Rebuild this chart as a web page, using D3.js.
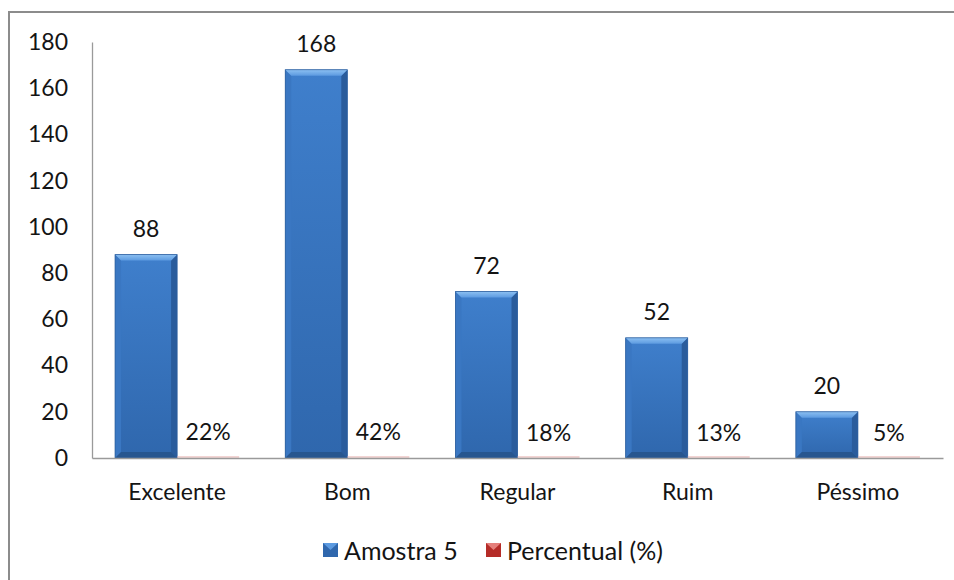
<!DOCTYPE html>
<html>
<head>
<meta charset="utf-8">
<script src="https://cdn.jsdelivr.net/npm/d3@7/dist/d3.min.js"></script>
<style>
  html, body { margin: 0; padding: 0; background: #fff; }
  svg { display: block; font-family: Lato, "Open Sans", sans-serif; }
</style>
</head>
<body>
<svg id="chart" width="954" height="580"></svg>
<script>
// Survey answers and their share of the total
const categories = ["Excelente", "Bom", "Regular", "Ruim", "Péssimo"];
const amostra = [88, 168, 72, 52, 20];
const percentual = [0.22, 0.42, 0.18, 0.13, 0.05];
const seriesNames = ["Amostra 5", "Percentual (%)"];
const yTicks = [0, 20, 40, 60, 80, 100, 120, 140, 160, 180];

const svg = d3.select("#chart");
const W = 954, H = 580;
const plot = { left: 92, right: 943, top: 42, bottom: 458 };
const txt = "#141414";

// outer frame (only top and left edges fall inside the view)
svg.append("rect")
  .attr("x", 9).attr("y", 12).attr("width", W + 20).attr("height", H + 20)
  .attr("fill", "#fff").attr("stroke", "#8c8c8c").attr("stroke-width", 2);

const x = d3.scaleBand().domain(categories)
  .range([plot.left, plot.right]).paddingInner(0.271).paddingOuter(0.1355);
const xs = d3.scaleBand().domain(seriesNames).range([0, x.bandwidth()]);
const y = d3.scaleLinear().domain([0, 180]).range([plot.bottom, plot.top]);

const defs = svg.append("defs");
function grad(id, stops, vertical) {
  const g = defs.append("linearGradient").attr("id", id)
    .attr("x1", 0).attr("y1", 0).attr("x2", vertical ? 0 : 1).attr("y2", vertical ? 1 : 0);
  stops.forEach(s => g.append("stop").attr("offset", s[0]).attr("stop-color", s[1]));
}
grad("blueFace", [[0, "#3f7fcc"], [1, "#2f67ad"]], true);
grad("blueTop", [[0, "#8cc0f2"], [1, "#5c9ae0"]], true);

// y axis
const yAxis = svg.append("g").attr("transform", `translate(${plot.left},0)`)
  .call(d3.axisLeft(y).tickValues(yTicks).tickSize(0).tickPadding(24));
yAxis.select(".domain").attr("stroke", "#9a9a9a").attr("stroke-width", 1.3);
yAxis.selectAll("text").attr("font-size", 23).attr("fill", txt)
  .attr("font-family", "Lato, sans-serif");

// bevelled bars for the sample counts
const bev = 6;
const blue = svg.append("g");
amostra.forEach((v, i) => {
  const x0 = x(categories[i]) + xs(seriesNames[0]);
  const x1 = x0 + xs.bandwidth();
  const y0 = y(v), y1 = y(0);
  const g = blue.append("g");
  g.append("rect").attr("x", x0).attr("y", y0).attr("width", x1 - x0).attr("height", y1 - y0)
    .attr("fill", "url(#blueFace)");
  // left side
  g.append("path").attr("d", `M${x0},${y0}L${x0 + bev},${y0 + bev}L${x0 + bev},${y1 - bev}L${x0},${y1}Z`)
    .attr("fill", "#3a77c2");
  // right side
  g.append("path").attr("d", `M${x1},${y0}L${x1 - bev},${y0 + bev}L${x1 - bev},${y1 - bev}L${x1},${y1}Z`)
    .attr("fill", "#2a5c9c");
  // bottom
  g.append("path").attr("d", `M${x0},${y1}L${x0 + bev},${y1 - bev}L${x1 - bev},${y1 - bev}L${x1},${y1}Z`)
    .attr("fill", "#27568f");
  // top
  g.append("path").attr("d", `M${x0},${y0}L${x1},${y0}L${x1 - bev},${y0 + bev}L${x0 + bev},${y0 + bev}Z`)
    .attr("fill", "url(#blueTop)");
  g.append("rect").attr("x", x0).attr("y", y0).attr("width", x1 - x0).attr("height", y1 - y0)
    .attr("fill", "none").attr("stroke", "#2d5f9e").attr("stroke-width", 0.8);
  svg.append("text").attr("x", (x0 + x1) / 2).attr("y", y0 - 27)
    .attr("text-anchor", "middle").attr("dominant-baseline", "central")
    .attr("font-size", 23).attr("fill", txt).text(v);
});

// percentage bars (plotted on the same axis, so they stay near the baseline)
percentual.forEach((v, i) => {
  const x0 = x(categories[i]) + xs(seriesNames[1]);
  const y0 = y(v);
  svg.append("rect").attr("x", x0).attr("y", y(0) - 1.5).attr("width", xs.bandwidth())
    .attr("height", Math.max(1, y(0) - y0)).attr("fill", "#e6aaa8");
  svg.append("text").attr("x", x0 + xs.bandwidth() / 2).attr("y", y0 - 26)
    .attr("text-anchor", "middle").attr("dominant-baseline", "central")
    .attr("font-size", 23).attr("fill", txt).text(d3.format(".0%")(v));
});

// x axis
const xAxis = svg.append("g").attr("transform", `translate(0,${plot.bottom})`)
  .call(d3.axisBottom(x).tickSize(0).tickPadding(26));
xAxis.select(".domain").attr("stroke", "#9a9a9a").attr("stroke-width", 1.3);
xAxis.selectAll("text").attr("font-size", 23).attr("fill", txt)
  .attr("font-family", "Lato, sans-serif");

// legend
const legend = svg.append("g");
const items = [
  { name: seriesNames[0], x: 323, top: "#5c9ae0", fill: "#2f67ad" },
  { name: seriesNames[1], x: 486, top: "#e57f7b", fill: "#b52c28" }
];
items.forEach(it => {
  const g = legend.append("g").attr("transform", `translate(${it.x},543)`);
  g.append("rect").attr("width", 15).attr("height", 14).attr("fill", it.fill);
  g.append("path").attr("d", "M0,0L15,0L7.5,7Z").attr("fill", it.top);
  g.append("text").attr("x", 21).attr("y", 7).attr("dominant-baseline", "central")
    .attr("font-size", 25).attr("fill", txt).text(it.name);
});
</script>
</body>
</html>
